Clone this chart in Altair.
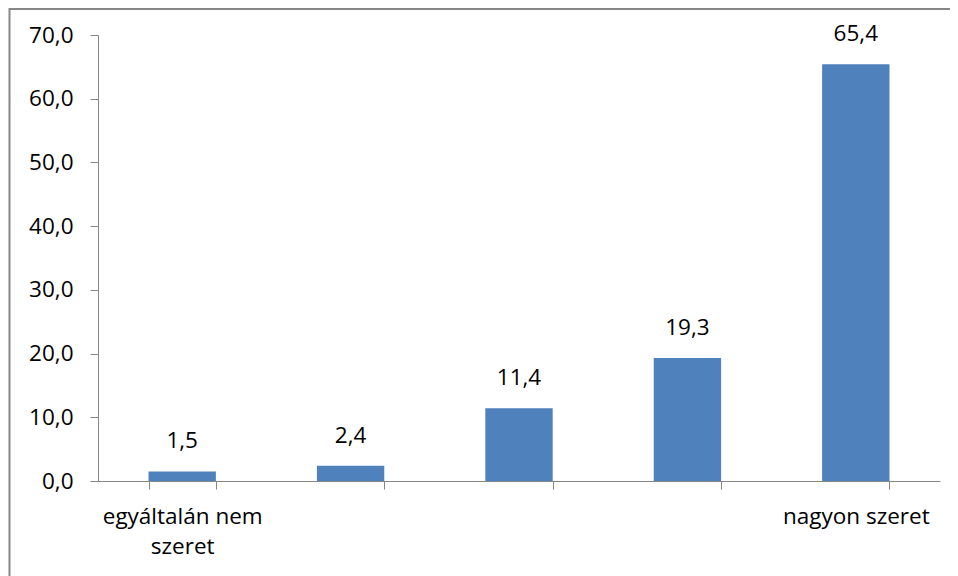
import altair as alt
import pandas as pd

categories = ["egyáltalán nem szeret", "2", "3", "4", "nagyon szeret"]
values = [1.5, 2.4, 11.4, 19.3, 65.4]

df = pd.DataFrame({"cat": categories, "value": values})

FONT = "Open Sans"
FS = 22.5
W, H = 842, 446
PL, PT, PR, PB = 90, 27, 10, 95

base = alt.Chart(df)

bars = base.mark_bar(color="#4F81BD").encode(
    x=alt.X(
        "cat:N",
        sort=categories,
        scale=alt.Scale(paddingInner=0.6, paddingOuter=0.3),
        axis=alt.Axis(
            title=None,
            labelAngle=0,
            tickBand="extent",
            tickSize=8,
            tickColor="#868686",
            domainColor="#868686",
            labelFont=FONT,
            labelFontSize=FS,
            labelColor="#000000",
            labelPadding=16,
            labelLineHeight=30,
            labelExpr="datum.value == 'egyáltalán nem szeret' ? ['egyáltalán nem', 'szeret'] : (datum.value == 'nagyon szeret' ? 'nagyon szeret' : '')",
        ),
    ),
    y=alt.Y(
        "value:Q",
        scale=alt.Scale(domain=[0, 70], nice=False),
        axis=alt.Axis(
            title=None,
            values=[0, 10, 20, 30, 40, 50, 60, 70],
            grid=False,
            tickSize=8,
            tickColor="#868686",
            domainColor="#868686",
            labelFont=FONT,
            labelFontSize=FS,
            labelColor="#000000",
            labelPadding=17,
            labelExpr="replace(format(datum.value, '.1f'), '.', ',')",
        ),
    ),
)

texts = base.transform_calculate(
    lbl="replace(format(datum.value, '.1f'), '.', ',')"
).mark_text(font=FONT, fontSize=FS, baseline="alphabetic", dy=-23, color="#000000").encode(
    x=alt.X("cat:N", sort=categories),
    y=alt.Y("value:Q"),
    text="lbl:N",
)

border = alt.Chart(alt.Data(values=[{}])).mark_rect(
    filled=False, stroke="#878787", strokeWidth=2
).encode(
    x=alt.value(-88.5),
    x2=alt.value(W + 200),
    y=alt.value(-26),
    y2=alt.value(H + 300),
)

chart = alt.layer(border, bars, texts).properties(
    width=W,
    height=H,
    padding={"left": PL, "top": PT, "right": PR, "bottom": PB},
    autosize=alt.AutoSizeParams(type="none"),
).configure_view(stroke=None)

chart.save("out.html", embed_options={"renderer": "svg", "actions": False})
